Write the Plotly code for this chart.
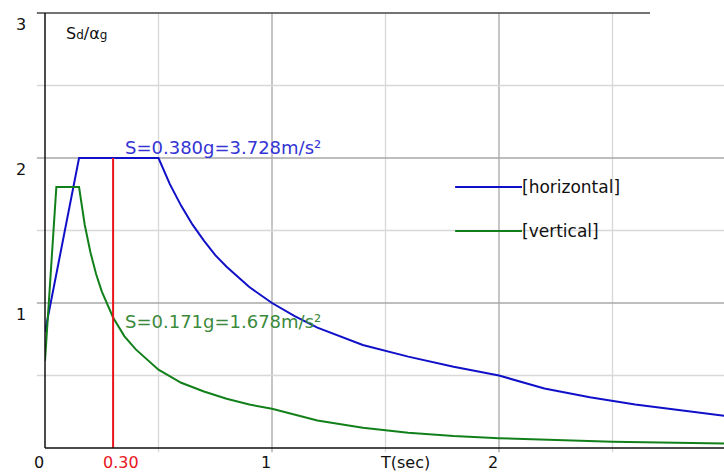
import plotly.graph_objects as go

# Design spectra (Sd/ag against period T in seconds)
period_h = [0, 0.15, 0.5, 0.55, 0.6, 0.65, 0.7, 0.75, 0.8, 0.9, 1.0, 1.1, 1.2, 1.4,
            1.6, 1.8, 2.0, 2.2, 2.4, 2.6, 2.8, 3.0]
sd_h = [0.8, 2.0, 2.0, 1.82, 1.67, 1.54, 1.43, 1.33, 1.25, 1.11, 1.0, 0.91, 0.83, 0.71,
        0.63, 0.56, 0.5, 0.41, 0.35, 0.30, 0.26, 0.22]

period_v = [0, 0.05, 0.15, 0.175, 0.2, 0.225, 0.25, 0.3, 0.35, 0.4, 0.5, 0.6, 0.7, 0.8,
            0.9, 1.0, 1.2, 1.4, 1.6, 1.8, 2.0, 2.5, 3.0]
sd_v = [0.6, 1.8, 1.8, 1.54, 1.35, 1.2, 1.08, 0.9, 0.77, 0.68, 0.54, 0.45, 0.39, 0.34,
        0.3, 0.27, 0.19, 0.14, 0.105, 0.083, 0.068, 0.043, 0.03]

sel_period = 0.30
sel_sd_h = 2.0
label_h = "S=0.380g=3.728m/s²"
label_v = "S=0.171g=1.678m/s²"

x_labels = ["0", "1", "2"]
x_label_vals = [0, 1, 2]
y_label_vals = [1, 2, 3]

BLUE = "#1010c8"
GREEN = "#12801a"
RED = "#e8141c"
FONT = "DejaVu Sans"

fig = go.Figure()

fig.add_trace(go.Scatter(x=period_h, y=sd_h, mode="lines",
                         line=dict(color=BLUE, width=2), hoverinfo="skip", showlegend=False))
fig.add_trace(go.Scatter(x=period_v, y=sd_v, mode="lines",
                         line=dict(color=GREEN, width=2), hoverinfo="skip", showlegend=False))
fig.add_trace(go.Scatter(x=[sel_period, sel_period], y=[0, sel_sd_h], mode="lines",
                         line=dict(color=RED, width=2), hoverinfo="skip", showlegend=False))

shapes = []
# grid lines: light at halves, darker at integers
for gx in [0.5, 1, 1.5, 2, 2.5]:
    col = "#a8a8a8" if gx == int(gx) else "#d8d8d8"
    shapes.append(dict(type="line", xref="x", yref="paper", x0=gx, x1=gx, y0=-0.01, y1=1,
                       line=dict(color=col, width=1.3), layer="below"))
for gy in [0.5, 1, 1.5, 2, 2.5]:
    col = "#a8a8a8" if gy == int(gy) else "#d8d8d8"
    shapes.append(dict(type="line", xref="paper", yref="y", x0=-0.012, x1=1, y0=gy, y1=gy,
                       line=dict(color=col, width=1.3), layer="below"))
# frame
shapes.append(dict(type="line", xref="paper", yref="paper", x0=-0.012, x1=0.891, y0=1, y1=1,
                   line=dict(color="#444444", width=1.5)))
shapes.append(dict(type="line", xref="paper", yref="paper", x0=0, x1=0, y0=0, y1=1,
                   line=dict(color="#111111", width=1.5)))
shapes.append(dict(type="line", xref="paper", yref="paper", x0=0, x1=1, y0=0, y1=0,
                   line=dict(color="#111111", width=1.5)))
# legend samples
shapes.append(dict(type="line", xref="paper", yref="paper", x0=0.604, x1=0.7025, y0=0.6, y1=0.6,
                   line=dict(color=BLUE, width=2)))
shapes.append(dict(type="line", xref="paper", yref="paper", x0=0.604, x1=0.7025, y0=0.499, y1=0.499,
                   line=dict(color=GREEN, width=2)))

ann = []
for v, t in zip(x_label_vals, x_labels):
    ann.append(dict(x=v, y=0, xref="x", yref="paper", text=t, showarrow=False,
                    xanchor="center", yanchor="top", xshift=-6, yshift=-3,
                    font=dict(family=FONT, size=16, color="#111111")))
ann.append(dict(x=sel_period, y=0, xref="x", yref="paper", text=f"{sel_period:.2f}",
                showarrow=False, xanchor="center", yanchor="top", xshift=8, yshift=-3,
                font=dict(family=FONT, size=16, color=RED)))
ann.append(dict(x=1.586, y=0, xref="x", yref="paper", text="T(sec)", showarrow=False,
                xanchor="center", yanchor="top", yshift=-3,
                font=dict(family=FONT, size=16, color="#111111")))
for v in y_label_vals:
    ann.append(dict(x=-0.035, y=v, xref="paper", yref="y", text=str(v), showarrow=False,
                    xanchor="center", yanchor="middle", yshift=-11,
                    font=dict(family=FONT, size=16, color="#111111")))
ann.append(dict(x=0.028, y=2.86, xref="paper", yref="y",
                text="S<span style='font-size:12px'>d</span>/α<span style='font-size:12px'>g</span>",
                showarrow=False, xanchor="left", yanchor="middle",
                font=dict(family=FONT, size=16, color="#111111")))
ann.append(dict(x=sel_period, y=2.07, xref="x", yref="y", text=label_h, showarrow=False,
                xanchor="left", yanchor="middle", xshift=10,
                font=dict(family=FONT, size=18, color="#3434d4")))
ann.append(dict(x=sel_period, y=0.875, xref="x", yref="y", text=label_v, showarrow=False,
                xanchor="left", yanchor="middle", xshift=10,
                font=dict(family=FONT, size=18, color="#3c8a3c")))
ann.append(dict(x=0.7025, y=0.6, xref="paper", yref="paper", text="[horizontal]", showarrow=False,
                xanchor="left", yanchor="middle", xshift=-2,
                font=dict(family=FONT, size=17, color="#111111")))
ann.append(dict(x=0.7025, y=0.499, xref="paper", yref="paper", text="[vertical]", showarrow=False,
                xanchor="left", yanchor="middle", xshift=-2,
                font=dict(family=FONT, size=17, color="#111111")))

fig.update_layout(
    width=724, height=472,
    margin=dict(l=45, r=0, t=13, b=24),
    plot_bgcolor="white", paper_bgcolor="white",
    xaxis=dict(range=[0, 679 / 227], showgrid=False, zeroline=False, showticklabels=False,
               showline=False, fixedrange=True),
    yaxis=dict(range=[0, 3], showgrid=False, zeroline=False, showticklabels=False,
               showline=False, fixedrange=True),
    shapes=shapes, annotations=ann, showlegend=False,
)

# drop the page's default body margin so the figure fills the window exactly
fig.write_html("out.html", config={"displayModeBar": False},
               post_script="document.body.style.margin='0';")
